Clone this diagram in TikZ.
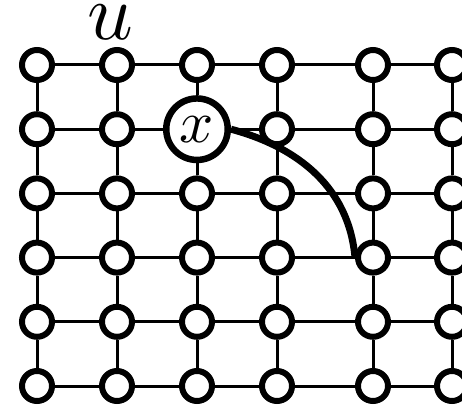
\documentclass[tikz,border=0pt]{standalone}
\usepackage{graphicx}
\begin{document}
\begin{tikzpicture}[x=1pt,y=-1pt,
  vtx/.style={circle,draw,fill=white,line width=6pt,minimum size=30pt,inner sep=0pt},
  bigvtx/.style={circle,draw,fill=white,line width=6.5pt,minimum size=61.5pt,inner sep=0pt},
  gridedge/.style={line width=3pt},
  thickarc/.style={line width=7pt}]
\clip (0,0) rectangle (462,409);
\useasboundingbox (0,0) rectangle (462,409);
% vertices
\foreach \c/\xx in {1/37,2/117,3/197,4/277,5/373,6/452}{
  \foreach \r in {1,...,6}{
    \pgfmathtruncatemacro{\isx}{and(\c==3,\r==2)}
    \ifnum\isx=0
      \node[vtx] (n-\c-\r) at (\xx,{65+64.2*(\r-1)}) {};
    \fi
  }}
\node[bigvtx,alias=x] (n-3-2) at (197,129.2) {\scalebox{6}{$x$}};
% edges
\foreach \c [evaluate=\c as \d using int(\c+1)] in {1,...,5}{
  \foreach \r in {1,...,6}{
    \draw[gridedge] (n-\c-\r) -- (n-\d-\r);
  }}
\foreach \c in {1,...,6}{
  \foreach \r [evaluate=\r as \s using int(\r+1)] in {1,...,5}{
    \draw[gridedge] (n-\c-\r) -- (n-\c-\s);
  }}
% thick curve
\draw[thickarc] (x.east) to[out=-15,in=95] (n-5-4.west);
% label
\node[anchor=base,inner sep=0pt] (u) at (110,40) {\scalebox{8}{$u$}};
\end{tikzpicture}
\end{document}
